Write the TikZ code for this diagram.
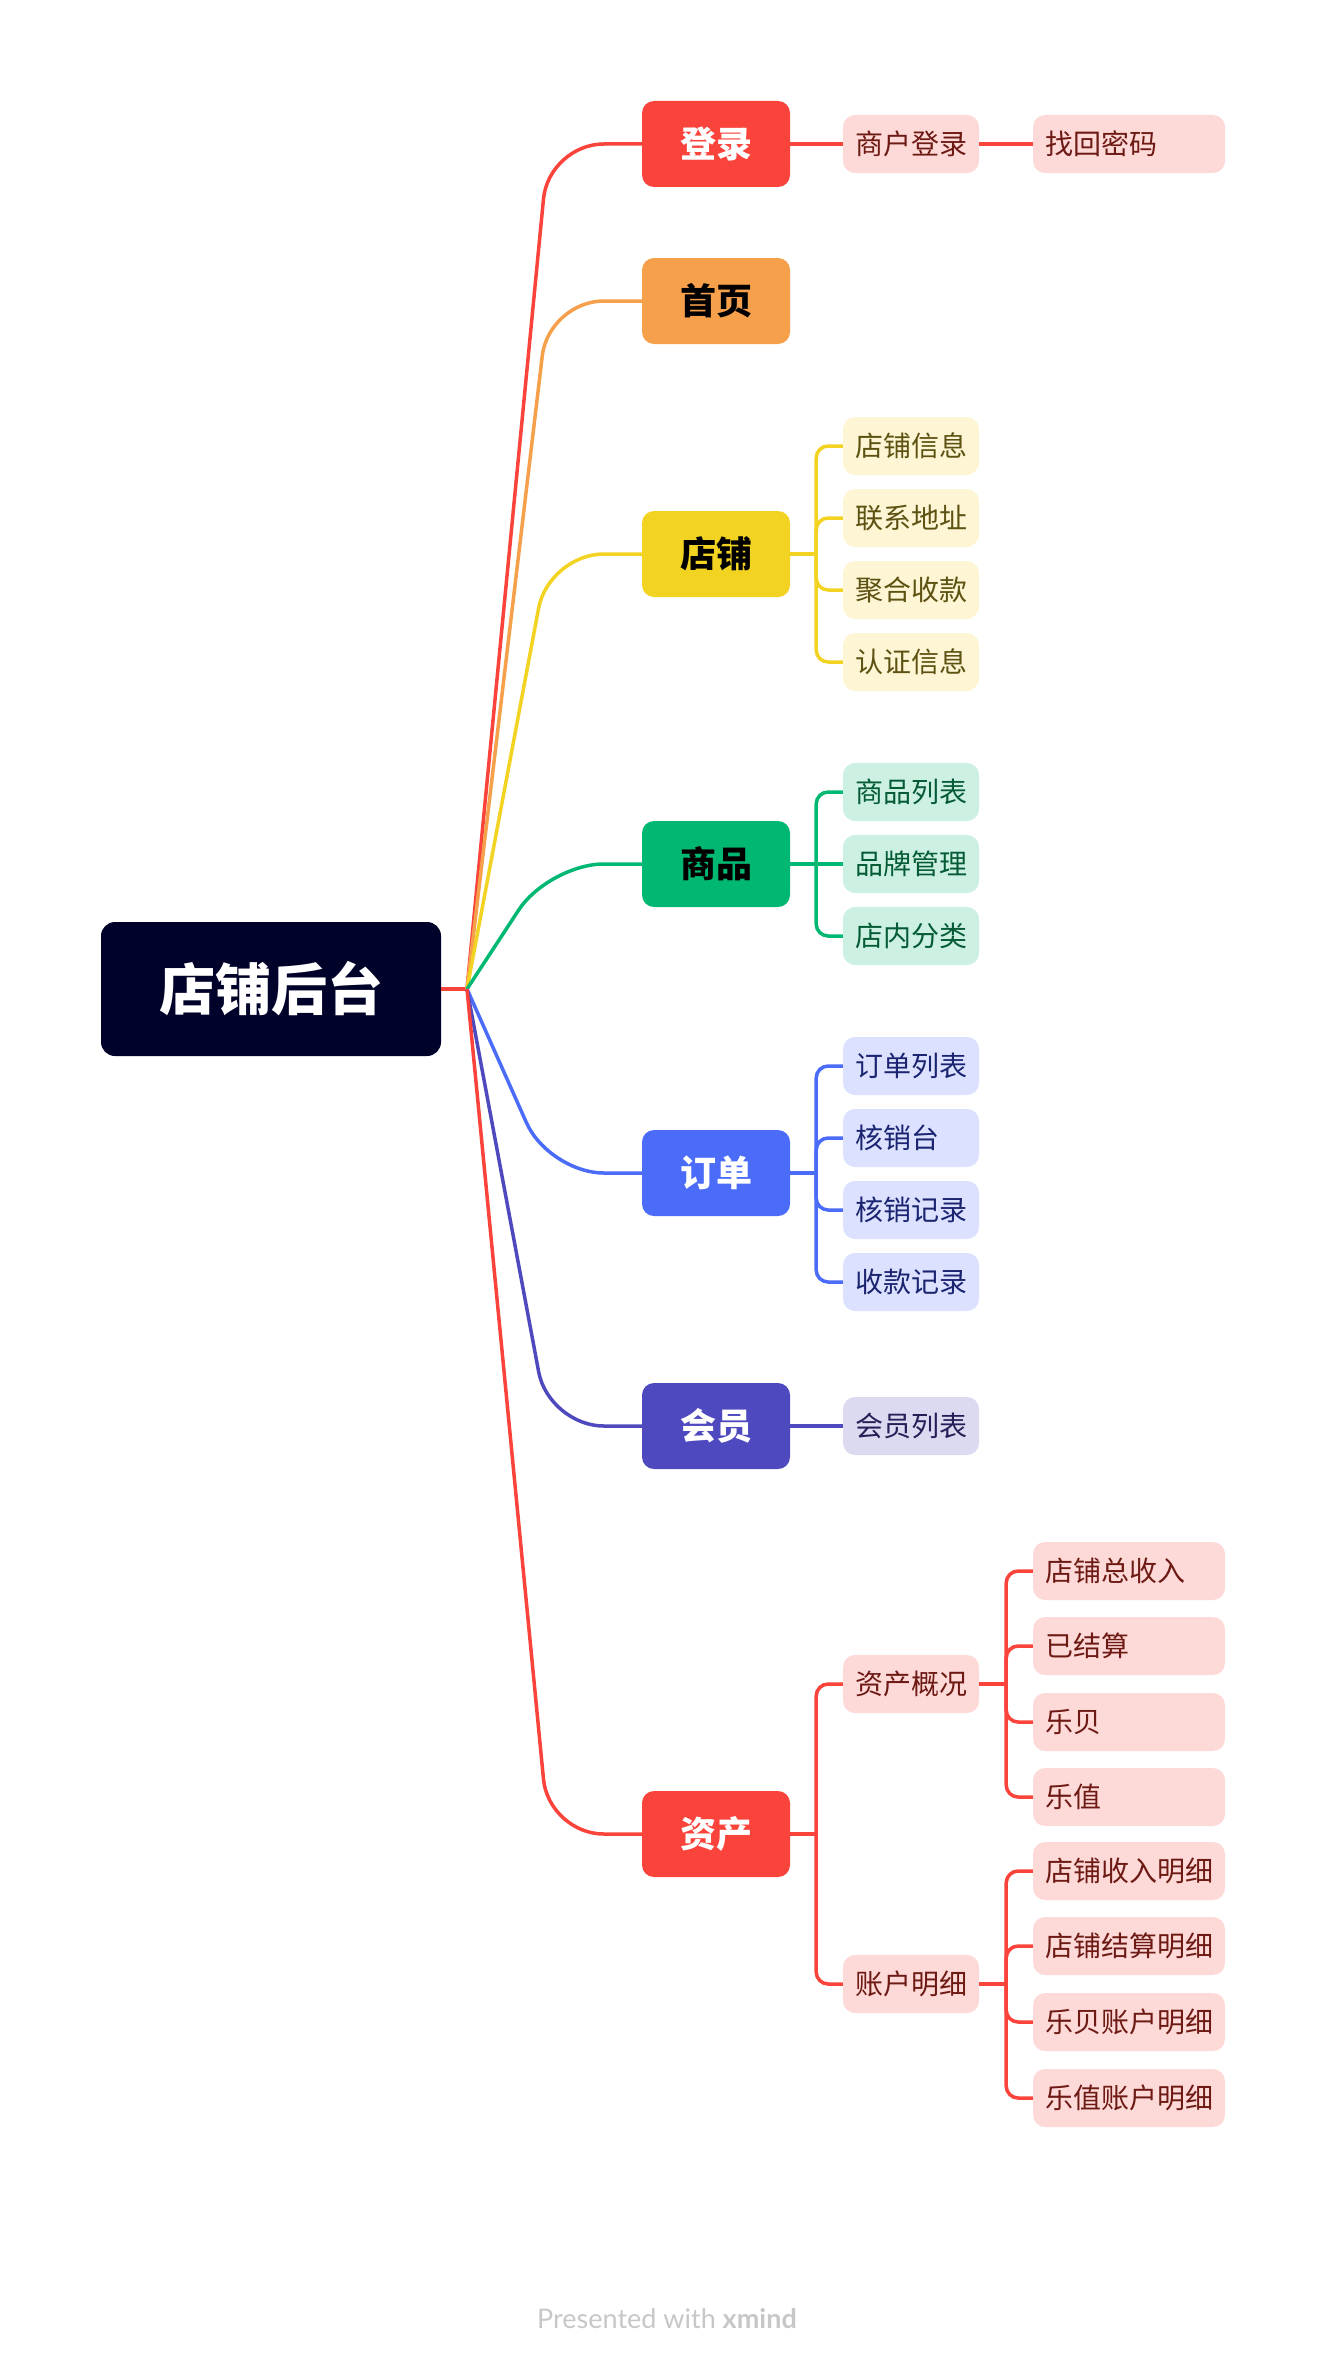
\documentclass[tikz,border=0pt]{standalone}
\usepackage{fontspec}
\setmainfont{Noto Sans CJK SC}
\newfontfamily\latofont{Lato}
\definecolor{cNuit}{HTML}{000229}
\definecolor{cRouge}{HTML}{F9433B}
\definecolor{cOrange}{HTML}{F6A04B}
\definecolor{cJaune}{HTML}{F2D321}
\definecolor{cVert}{HTML}{00B872}
\definecolor{cBleu}{HTML}{4A6CF8}
\definecolor{cIndigo}{HTML}{4E49BE}
\definecolor{lRouge}{HTML}{FDDAD8}
\definecolor{lJaune}{HTML}{FDF5D4}
\definecolor{lVert}{HTML}{CCF1E2}
\definecolor{lBleu}{HTML}{DBE1FE}
\definecolor{lIndigo}{HTML}{DCDAF1}
\definecolor{tRouge}{HTML}{6E1A14}
\definecolor{tJaune}{HTML}{5E5212}
\definecolor{tVert}{HTML}{055B36}
\definecolor{tBleu}{HTML}{1A2470}
\definecolor{tIndigo}{HTML}{232057}

\begin{document}
\begin{tikzpicture}[x=1pt,y=-1pt]
\tikzset{racine/.style={fill=cNuit, text=white, rounded corners=14pt, minimum width=340pt, minimum height=134pt, font=\fontsize{56pt}{60pt}\selectfont\bfseries}}
\tikzset{branche/.style={rounded corners=12pt, minimum width=148pt, minimum height=86pt, font=\fontsize{36pt}{40pt}\selectfont\bfseries}}
\tikzset{feuille/.style={rounded corners=12pt, minimum height=58pt, text width=112pt, inner xsep=12pt, align=left, font=\fontsize{28pt}{32pt}\selectfont}}
\tikzset{grandefeuille/.style={feuille, text width=168pt}}
\tikzset{lien/.style={line width=3.5pt}}
\useasboundingbox (0,0) rectangle (1328,2368);
\coordinate (hub) at (467,989);
\node[racine] (R) at (271,989) {店铺后台};
\node[branche, fill=cRouge, text=white] (B1) at (716,144) {登录};
\node[branche, fill=cOrange] (B2) at (716,301) {首页};
\node[branche, fill=cJaune] (B3) at (716,554) {店铺};
\node[branche, fill=cVert] (B4) at (716,864) {商品};
\node[branche, fill=cBleu, text=white] (B5) at (716,1173) {订单};
\node[branche, fill=cIndigo, text=white] (B6) at (716,1426) {会员};
\node[branche, fill=cRouge, text=white] (B7) at (716,1834) {资产};
\node[feuille, fill=lRouge, text=tRouge] (B1a) at (911,144) {商户登录};
\node[grandefeuille, fill=lRouge, text=tRouge] (B1b) at (1129,144) {找回密码};
\node[feuille, fill=lJaune, text=tJaune] (B3a) at (911,446) {店铺信息};
\node[feuille, fill=lJaune, text=tJaune] (B3b) at (911,518) {联系地址};
\node[feuille, fill=lJaune, text=tJaune] (B3c) at (911,590) {聚合收款};
\node[feuille, fill=lJaune, text=tJaune] (B3d) at (911,662) {认证信息};
\node[feuille, fill=lVert, text=tVert] (B4a) at (911,792) {商品列表};
\node[feuille, fill=lVert, text=tVert] (B4b) at (911,864) {品牌管理};
\node[feuille, fill=lVert, text=tVert] (B4c) at (911,936) {店内分类};
\node[feuille, fill=lBleu, text=tBleu] (B5a) at (911,1066) {订单列表};
\node[feuille, fill=lBleu, text=tBleu] (B5b) at (911,1138) {核销台};
\node[feuille, fill=lBleu, text=tBleu] (B5c) at (911,1210) {核销记录};
\node[feuille, fill=lBleu, text=tBleu] (B5d) at (911,1282) {收款记录};
\node[feuille, fill=lIndigo, text=tIndigo] (B6a) at (911,1426) {会员列表};
\node[feuille, fill=lRouge, text=tRouge] (B7a) at (911,1684) {资产概况};
\node[feuille, fill=lRouge, text=tRouge] (B7b) at (911,1984) {账户明细};
\node[grandefeuille, fill=lRouge, text=tRouge] (B7a1) at (1129,1571) {店铺总收入};
\node[grandefeuille, fill=lRouge, text=tRouge] (B7a2) at (1129,1646) {已结算};
\node[grandefeuille, fill=lRouge, text=tRouge] (B7a3) at (1129,1722) {乐贝};
\node[grandefeuille, fill=lRouge, text=tRouge] (B7a4) at (1129,1797) {乐值};
\node[grandefeuille, fill=lRouge, text=tRouge] (B7b1) at (1129,1871) {店铺收入明细};
\node[grandefeuille, fill=lRouge, text=tRouge] (B7b2) at (1129,1946) {店铺结算明细};
\node[grandefeuille, fill=lRouge, text=tRouge] (B7b3) at (1129,2022) {乐贝账户明细};
\node[grandefeuille, fill=lRouge, text=tRouge] (B7b4) at (1129,2098) {乐值账户明细};
\node[font=\latofont\fontsize{27pt}{31pt}\selectfont, text=black!22] (credit) at (667,2319) {Presented with \textbf{xmind}};
\draw[lien, cRouge] (R.east) -- (hub);
\draw[lien, cRouge, rounded corners=55pt] (hub) -- ([xshift=-93pt]B1.west) -- (B1.west);
\draw[lien, cOrange, rounded corners=55pt] (hub) -- ([xshift=-93pt]B2.west) -- (B2.west);
\draw[lien, cJaune, rounded corners=55pt] (hub) -- ([xshift=-93pt]B3.west) -- (B3.west);
\draw[lien, cVert, rounded corners=55pt] (hub) -- ([xshift=-93pt]B4.west) -- (B4.west);
\draw[lien, cBleu, rounded corners=55pt] (hub) -- ([xshift=-93pt]B5.west) -- (B5.west);
\draw[lien, cIndigo, rounded corners=55pt] (hub) -- ([xshift=-93pt]B6.west) -- (B6.west);
\draw[lien, cRouge, rounded corners=55pt] (hub) -- ([xshift=-93pt]B7.west) -- (B7.west);
\draw[lien, cRouge] (B1.east) -- (B1a.west);
\draw[lien, cRouge] (B1a.east) -- (B1b.west);
\draw[lien, cJaune] (B3.east) -- ++(26,0) coordinate (J3);
\draw[lien, cJaune, rounded corners=12pt] (J3) |- (B3a.west);
\draw[lien, cJaune, rounded corners=12pt] (J3) |- (B3b.west);
\draw[lien, cJaune, rounded corners=12pt] (J3) |- (B3c.west);
\draw[lien, cJaune, rounded corners=12pt] (J3) |- (B3d.west);
\draw[lien, cVert] (B4.east) -- ++(26,0) coordinate (J4);
\draw[lien, cVert, rounded corners=12pt] (J4) |- (B4a.west);
\draw[lien, cVert] (J4) -- (B4b.west);
\draw[lien, cVert, rounded corners=12pt] (J4) |- (B4c.west);
\draw[lien, cBleu] (B5.east) -- ++(26,0) coordinate (J5);
\draw[lien, cBleu, rounded corners=12pt] (J5) |- (B5a.west);
\draw[lien, cBleu, rounded corners=12pt] (J5) |- (B5b.west);
\draw[lien, cBleu, rounded corners=12pt] (J5) |- (B5c.west);
\draw[lien, cBleu, rounded corners=12pt] (J5) |- (B5d.west);
\draw[lien, cIndigo] (B6.east) -- (B6a.west);
\draw[lien, cRouge] (B7.east) -- ++(26,0) coordinate (J7);
\draw[lien, cRouge, rounded corners=12pt] (J7) |- (B7a.west);
\draw[lien, cRouge, rounded corners=12pt] (J7) |- (B7b.west);
\draw[lien, cRouge] (B7a.east) -- ++(27,0) coordinate (J7a);
\draw[lien, cRouge, rounded corners=12pt] (J7a) |- (B7a1.west);
\draw[lien, cRouge, rounded corners=12pt] (J7a) |- (B7a2.west);
\draw[lien, cRouge, rounded corners=12pt] (J7a) |- (B7a3.west);
\draw[lien, cRouge, rounded corners=12pt] (J7a) |- (B7a4.west);
\draw[lien, cRouge] (B7b.east) -- ++(27,0) coordinate (J7b);
\draw[lien, cRouge, rounded corners=12pt] (J7b) |- (B7b1.west);
\draw[lien, cRouge, rounded corners=12pt] (J7b) |- (B7b2.west);
\draw[lien, cRouge, rounded corners=12pt] (J7b) |- (B7b3.west);
\draw[lien, cRouge, rounded corners=12pt] (J7b) |- (B7b4.west);
\end{tikzpicture}
\end{document}
